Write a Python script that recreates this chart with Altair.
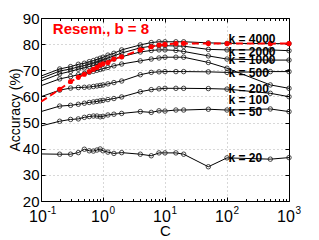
import altair as alt
import pandas as pd

FONT = "Liberation Sans"

# regularization parameter C (first value only carries the line to the left edge)
C = [0.1, 0.2, 0.3, 0.4, 0.5, 0.6, 0.7, 0.8, 0.9, 1, 1.2, 1.5, 2, 4, 6, 8,
     10, 15, 20, 50, 100, 500, 1000]

k_names = ["k = 20", "k = 50", "k = 100", "k = 200", "k = 500", "k = 1000",
           "k = 2000", "k = 4000"]

acc_k20 = [38.0, 37.9, 37.9, 38.5, 39.8, 39.2, 39.1, 39.5, 39.9, 39.2, 38.7, 38.2,
           38.5, 37.9, 37.3, 38.4, 38.4, 38.4, 37.9, 33.1, 36.5, 36.0, 36.6]
acc_k50 = [48.7, 50.5, 51.2, 51.4, 52.0, 52.3, 52.5, 52.5, 52.2, 52.4, 52.9, 53.2,
           53.5, 54.2, 53.9, 54.5, 54.4, 54.8, 54.8, 55.1, 54.8, 55.2, 54.2]
acc_k100 = [54.2, 56.3, 56.6, 57.0, 57.4, 57.7, 57.9, 58.1, 58.3, 58.5, 58.8, 59.2,
            59.8, 61.8, 62.6, 62.9, 63.1, 63.1, 63.1, 63.0, 62.8, 61.2, 59.9]
acc_k200 = [59.9, 62.4, 63.2, 63.4, 63.5, 63.6, 63.8, 64.0, 64.2, 64.4, 64.8, 65.3,
            65.9, 68.3, 69.2, 69.4, 69.5, 69.5, 69.5, 69.4, 69.2, 69.5, 69.5]
acc_k500 = [64.1, 66.7, 67.6, 68.3, 68.8, 69.2, 69.6, 70.0, 70.3, 70.6, 71.1, 71.7,
            72.4, 73.6, 74.3, 74.7, 75.0, 75.0, 75.0, 73.0, 70.8, 64.4, 63.1]
acc_k1000 = [65.9, 68.6, 69.6, 70.4, 70.9, 71.4, 71.8, 72.2, 72.6, 73.0, 73.6, 74.3,
             75.2, 77.0, 77.6, 77.8, 77.8, 77.6, 77.2, 75.5, 74.3, 73.9, 73.9]
acc_k2000 = [66.9, 69.7, 70.5, 71.3, 71.8, 72.3, 72.8, 73.2, 73.6, 74.0, 74.7, 75.5,
             76.6, 78.6, 79.2, 79.4, 79.4, 79.3, 79.2, 78.0, 77.8, 77.8, 77.5]
acc_k4000 = [67.8, 70.5, 71.4, 72.3, 72.7, 73.3, 73.7, 74.2, 74.6, 75.0, 75.8, 76.5,
             77.8, 79.7, 80.6, 80.9, 80.9, 80.9, 80.9, 80.5, 80.3, 80.2, 80.2]
acc_resem = [58.0, 62.7, 65.7, 67.3, 68.5, 69.5, 70.4, 71.1, 72.0, 72.5, 73.0, 74.3,
             75.2, 77.8, 79.0, 79.7, 79.9, 80.2, 80.3, 80.2, 80.2, 80.2, 80.2]

series = [acc_k20, acc_k50, acc_k100, acc_k200, acc_k500, acc_k1000, acc_k2000, acc_k4000]

# curve labels
label_text = ["k = 4000", "k = 2000", "k = 1000", "k = 500", "k = 200", "k = 100",
              "k = 50", "k = 20"]
label_acc = [81.9, 77.1, 73.9, 69.1, 62.7, 58.6, 53.9, 36.3]
label_C = [100, 100, 100, 100, 100, 100, 100, 100]

title_text = ["Resem., b = 8"]
title_C = [0.155]
title_acc = [85.8]

# axis ticks
major_x = [0.1, 1, 10, 100, 1000]
exponents = ["-1", "0", "1", "2", "3"]
all_x = [m * d for d in [0.1, 1, 10, 100] for m in range(1, 10)] + [1000]
y_ticks = [20, 30, 40, 50, 60, 70, 80, 90]

W, H = 248, 183

rows = []
for name, vals in zip(k_names, series):
    for c, v in zip(C, vals):
        rows.append({"C": c, "acc": v, "k": name})
black = pd.DataFrame(rows)
red = pd.DataFrame({"C": C, "acc": acc_resem})
labels = pd.DataFrame({"C": label_C, "acc": label_acc, "t": label_text})
ttl = pd.DataFrame({"C": title_C, "acc": title_acc, "t": title_text})
expo = pd.DataFrame({"C": major_x, "t": exponents})

xs = alt.Scale(type="log", domain=[0.1, 1000], nice=False)
ys = alt.Scale(domain=[20, 90], nice=False, zero=False)

grid = dict(grid=True, gridColor="#b0b0b0", gridDash=[1, 3], gridWidth=1)

axA_x = alt.Axis(orient="bottom", values=major_x, labelExpr="'10'", labelOffset=-3.5,
                 labelFont=FONT, labelFontSize=16, labelColor="black", labelPadding=7,
                 labelFlush=False, labelOverlap=False, ticks=False, domain=True,
                 domainColor="black", domainWidth=1, title="C", titleFont=FONT,
                 titleFontSize=15, titleFontWeight="normal", titleColor="black",
                 titleX=W / 2, titleY=29, titleBaseline="middle", titleAlign="center",
                 **grid)
axA_y = alt.Axis(orient="left", values=y_ticks, labelFont=FONT, labelFontSize=15,
                 labelColor="black", labelPadding=2, labelFlush=False, labelOverlap=False,
                 ticks=False, domain=True, domainColor="black", domainWidth=1,
                 title="Accuracy (%)", titleFont=FONT, titleFontSize=14,
                 titleFontWeight="normal", titleColor="black", titleX=-26, titleY=H / 2,
                 titleAngle=270, titleBaseline="middle", titleAlign="center", **grid)

tick_cond = {"condition": {"test": "abs(log(datum.value)/LN10 - round(log(datum.value)/LN10)) < 0.001",
                           "value": 4}, "value": 2.5}

axB_x = alt.Axis(orient="top", offset=-H, values=all_x, labels=False, domain=False,
                 grid=False, ticks=True, tickColor="black", tickWidth=1,
                 tickSize=tick_cond, title=None)
axB_y = alt.Axis(orient="right", offset=-W, values=y_ticks, labels=False, domain=False,
                 grid=False, ticks=True, tickColor="black", tickWidth=1, tickSize=4,
                 title=None)
axC_x = alt.Axis(orient="bottom", offset=-H, values=all_x, labels=False, domain=True,
                 domainColor="black", domainWidth=1, grid=False, ticks=True,
                 tickColor="black", tickWidth=1, tickSize=tick_cond, title=None)
axC_y = alt.Axis(orient="left", offset=-W, values=y_ticks, labels=False, domain=True,
                 domainColor="black", domainWidth=1, grid=False, ticks=True,
                 tickColor="black", tickWidth=1, tickSize=4, title=None)

lines = alt.Chart(black).mark_line(color="black", strokeWidth=1, clip=True).encode(
    x=alt.X("C:Q", scale=xs, axis=axA_x),
    y=alt.Y("acc:Q", scale=ys, axis=axA_y),
    detail="k:N",
)
pts = alt.Chart(black).transform_filter("datum.C >= 0.15").mark_point(
    shape="circle", filled=False, size=20, strokeWidth=0.8, color="#1a1a1a", opacity=1
).encode(
    x=alt.X("C:Q", scale=xs, axis=axB_x),
    y=alt.Y("acc:Q", scale=ys, axis=axB_y),
    detail="k:N",
)
red_line = alt.Chart(red).mark_line(color="#ff0000", strokeWidth=2, strokeDash=[7, 4],
                                    clip=True).encode(
    x=alt.X("C:Q", scale=xs, axis=axC_x),
    y=alt.Y("acc:Q", scale=ys, axis=axC_y),
)
red_pts = alt.Chart(red).transform_filter("datum.C >= 0.15").mark_circle(
    size=26, color="#ff0000", opacity=1
).encode(
    x=alt.X("C:Q", scale=xs, axis=None),
    y=alt.Y("acc:Q", scale=ys, axis=None),
)
lab = alt.Chart(labels).mark_text(font=FONT, fontSize=12, fontWeight="bold", color="black",
                                   align="left", baseline="middle", dx=1.5).encode(
    x=alt.X("C:Q", scale=xs, axis=None),
    y=alt.Y("acc:Q", scale=ys, axis=None),
    text="t:N",
)
ttl_mark = alt.Chart(ttl).mark_text(font=FONT, fontSize=15, fontWeight="bold",
                                    color="#ff0000", align="left", baseline="middle").encode(
    x=alt.X("C:Q", scale=xs, axis=None),
    y=alt.Y("acc:Q", scale=ys, axis=None),
    text="t:N",
)
exp_mark = alt.Chart(expo).mark_text(font=FONT, fontSize=10, color="black", align="left",
                                     baseline="top", dx=6.5).encode(
    x=alt.X("C:Q", scale=xs, axis=None),
    y=alt.value(H + 5),
    text="t:N",
)

chart = alt.layer(lines, pts, red_line, red_pts, lab, ttl_mark, exp_mark).resolve_axis(
    x="independent", y="independent"
).properties(
    width=W, height=H,
    autosize=alt.AutoSizeParams(type="none"),
    padding={"left": 33, "top": 10, "right": 15, "bottom": 39},
    background="white",
).configure_view(stroke=None)

chart.save("out.html", embed_options={"renderer": "svg", "actions": False})
